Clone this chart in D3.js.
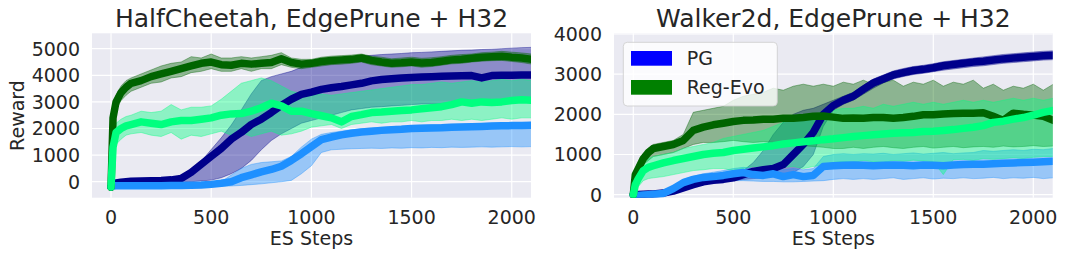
<!DOCTYPE html>
<html>
<head>
<meta charset="utf-8">
<script src="https://cdn.jsdelivr.net/npm/d3@7"></script>
<style>
  html, body { margin: 0; padding: 0; background: #ffffff; }
  svg { display: block; }
  text { font-family: "DejaVu Sans", sans-serif; fill: #262626; }
</style>
</head>
<body>
<svg id="chart" width="1065" height="257"></svg>
<script>
// ---------------- DATA ----------------
const steps = [0,10,25,50,75,100,
  150,200,250,300,350,400,450,500,550,600,
  650,700,750,800,850,900,950,1000,1050,1100,
  1150,1200,1250,1300,1350,1400,1450,1500,1550,1600,
  1650,1700,1750,1800,1850,1900,1950,2000,2050,2100];

const xTicks = [0, 500, 1000, 1500, 2000];
const hcYTicks = [0, 1000, 2000, 3000, 4000, 5000];
const wkYTicks = [0, 1000, 2000, 3000, 4000];

const titles = ["HalfCheetah, EdgePrune + H32", "Walker2d, EdgePrune + H32"];
const legendLabels = ["PG", "Reg-Evo"];

// HalfCheetah
const hcNavyMean = [-200,-100,-50,-20,0,20,
  30,40,50,70,120,350,650,950,1250,1600,
  1850,2150,2350,2600,2870,3100,3280,3370,3470,3530,
  3580,3640,3700,3790,3840,3870,3900,3920,3940,3950,
  3960,3970,3980,3990,3900,3990,4000,4000,4010,4010];
const hcNavyLo = [-250,-200,-150,-100,-80,-60,
  -50,-50,-40,-30,-20,0,30,60,150,300,
  500,800,1200,1550,1800,2000,2200,2300,2400,2500,
  2600,2700,2750,2800,2820,2850,2870,2900,2920,2930,
  2940,2950,2960,2970,2980,2990,3000,3000,3010,3020];
const hcNavyHi = [-150,-50,30,60,80,90,
  100,110,120,130,200,330,770,1210,1650,2130,
  2700,3300,3800,3950,4050,4150,4300,4400,4500,4600,
  4650,4700,4720,4750,4780,4800,4820,4850,4860,4880,
  4900,4920,4940,4950,4970,4980,5000,5020,5040,5050];

const hcDodgerMean = [-200,-160,-150,-150,-150,-150,
  -150,-150,-150,-140,-140,-130,-120,-100,-60,0,
  150,260,370,460,580,800,1050,1320,1580,1680,
  1760,1820,1870,1900,1930,1950,1970,2000,2010,2020,
  2030,2050,2060,2070,2080,2090,2100,2110,2115,2120];
const hcDodgerLo = [-250,-220,-210,-200,-200,-200,
  -200,-200,-200,-190,-190,-190,-190,-180,-170,-160,
  -140,-110,-80,-40,0,50,300,600,1100,1200,
  1220,1240,1250,1260,1250,1270,1260,1280,1270,1290,
  1280,1300,1290,1300,1310,1300,1310,1320,1310,1320];
const hcDodgerHi = [-150,-120,-110,-100,-100,-100,
  -100,-100,-100,-100,-90,-80,-60,-20,0,250,
  500,650,720,750,780,950,1300,1600,1780,1850,
  1900,1950,1990,2020,2050,2070,2090,2110,2130,2140,
  2150,2160,2170,2180,2190,2200,2200,2210,2220,2230];

const hcDarkGreenMean = [-200,2400,3000,3350,3550,3700,
  3800,3950,4050,4150,4250,4350,4450,4500,4400,4380,
  4450,4420,4450,4480,4620,4480,4420,4450,4520,4560,
  4580,4600,4650,4560,4500,4450,4470,4500,4460,4480,
  4530,4580,4600,4640,4680,4700,4720,4680,4650,4600];
const hcDarkGreenLo = [-250,2000,2700,3050,3250,3400,
  3550,3700,3750,3900,3950,4100,4150,4250,4150,4150,
  4250,4150,4250,4250,4400,4300,4250,4300,4350,4400,
  4420,4450,4500,4400,4350,4300,4320,4350,4300,4330,
  4380,4430,4450,4500,4530,4550,4560,4520,4480,4420];
const hcDarkGreenHi = [-150,2700,3250,3600,3800,3900,
  4050,4200,4350,4450,4500,4700,4650,4800,4650,4650,
  4700,4650,4700,4750,4850,4650,4600,4600,4680,4720,
  4740,4760,4800,4720,4680,4620,4650,4680,4640,4660,
  4700,4750,4780,4800,4850,4870,4900,4870,4840,4800];

const hcSpringMean = [-200,1300,1850,2000,2100,2150,
  2250,2200,2150,2250,2300,2300,2350,2400,2500,2550,
  2560,2650,2780,2950,2850,2650,2650,2560,2480,2400,
  2250,2450,2520,2600,2620,2650,2680,2700,2740,2780,
  2820,2900,3000,2950,3000,2980,3000,3050,3080,3060];
const hcSpringLo = [-250,900,1400,1600,1750,1800,
  1850,1750,1700,1850,1600,1750,1700,1800,1900,1750,
  1850,1700,1800,1900,1750,1800,1900,2050,2100,2150,
  2000,2150,2200,2250,2200,2250,2250,2300,2250,2300,
  2300,2350,2300,2350,2300,2350,2400,2350,2400,2400];
const hcSpringHi = [-150,1600,2200,2350,2450,2500,
  2650,2600,2650,2900,2700,2800,2800,2850,3100,3400,
  3700,3800,3900,3800,3600,3400,3300,3250,3300,3250,
  3300,3350,3400,3450,3500,3550,3600,3650,3650,3700,
  3750,3700,3750,3800,3750,3800,3850,3800,3850,3800];

// Walker2d
const wkNavyMean = [0,0,5,10,15,20,
  40,90,170,250,320,360,380,420,500,580,
  620,650,750,1000,1250,1550,2000,2220,2350,2450,
  2620,2780,2880,2980,3040,3090,3120,3160,3210,3240,
  3270,3300,3320,3350,3380,3400,3420,3440,3460,3470];
const wkNavyLo = [-30,-30,-30,-25,-20,-20,
  0,50,120,200,270,310,330,350,380,400,
  420,450,500,550,700,1000,1700,2100,2250,2350,
  2500,2650,2780,2880,2940,2990,3020,3060,3100,3130,
  3160,3190,3210,3240,3270,3290,3310,3330,3350,3360];
const wkNavyHi = [30,30,40,45,50,60,
  80,130,220,300,370,410,430,480,600,800,
  1100,1500,1800,2000,2100,2150,2250,2350,2450,2550,
  2720,2880,2980,3080,3140,3190,3220,3260,3310,3340,
  3370,3400,3430,3460,3490,3510,3530,3550,3570,3580];

const wkDodgerMean = [0,-20,-20,-10,0,10,
  30,150,300,380,430,450,480,520,550,500,
  480,520,450,500,450,480,700,720,730,740,
  730,720,730,740,730,720,740,730,720,740,
  750,760,760,770,780,790,800,810,820,830];
const wkDodgerLo = [-40,-40,-40,-30,-30,-20,
  0,80,200,280,320,330,340,350,350,340,
  330,330,320,320,330,340,350,380,400,380,
  400,380,400,420,380,400,420,390,410,400,
  420,400,410,430,400,420,410,430,400,420];
const wkDodgerHi = [30,20,20,30,40,50,
  80,220,380,460,520,560,600,650,680,650,
  640,660,620,650,620,650,950,1000,1020,1000,
  1020,1010,1030,1000,1020,1040,1010,1030,1050,1020,
  1040,1050,1100,1080,1100,1120,1100,1130,1120,1150];

const wkDarkGreenMean = [0,500,650,900,1050,1150,
  1200,1250,1350,1600,1680,1740,1780,1820,1850,1860,
  1880,1880,1900,1900,1920,1950,1960,1930,1900,1910,
  1900,1920,1920,1900,1920,1950,1990,1990,2010,2020,
  2030,2030,2040,1950,1850,2030,2000,1980,1950,1850];
const wkDarkGreenLo = [-30,350,500,750,850,950,
  1000,1050,1150,1250,1300,1300,1320,1350,1320,1300,
  1320,1300,1280,1250,1220,1200,1180,1150,1150,1180,
  1150,1180,1200,1170,1150,1180,1200,1160,1180,1200,
  1170,1190,1200,1180,1210,1190,1200,1220,1200,1210];
const wkDarkGreenHi = [30,600,800,1000,1150,1250,
  1300,1350,1500,2050,2100,2150,2200,2350,2450,2500,
  2550,2650,2600,2700,2750,2700,2750,2700,2800,2750,
  2850,2750,2800,2850,2700,2800,2750,2850,2700,2800,
  2750,2850,2650,2750,2600,2700,2650,2750,2600,2750];

const wkSpringMean = [0,250,400,600,680,720,
  790,850,900,950,1000,1030,1050,1100,1130,1160,
  1190,1220,1260,1290,1320,1340,1370,1390,1420,1450,
  1470,1490,1510,1530,1540,1550,1570,1580,1600,1620,
  1650,1680,1720,1800,1830,1880,1920,1980,2050,2100];
const wkSpringLo = [-50,100,200,350,400,420,
  450,500,550,600,620,650,650,600,650,700,
  650,700,680,700,650,700,750,800,820,800,
  850,820,800,850,830,860,840,820,500,870,
  880,850,900,880,900,920,900,930,950,950];
const wkSpringHi = [50,400,600,800,900,950,
  1000,1050,1150,1200,1250,1300,1400,1450,1500,1550,
  1600,1700,1800,1900,1950,2000,2050,2100,2150,2150,
  2200,2150,2250,2200,2250,2300,2250,2300,2250,2300,
  2350,2300,2350,2300,2350,2400,2350,2400,2350,2400];

const colors = { navy: "#00008b", dodger: "#1e90ff", darkgreen: "#006400", spring: "#00ff7f" };
const legendColors = ["#0000ff", "#008000"];

// ---------------- LAYOUT ----------------
const svg = d3.select("#chart");
const panels = [
  {
    title: titles[0], yTicks: hcYTicks,
    x: d3.scaleLinear().domain([-95, 2096]).range([92, 531]),
    y: d3.scaleLinear().domain([-601, 5579]).range([197.7, 33.3]),
    ylabel: "Reward",
    series: [
      { c: colors.navy, m: hcNavyMean, lo: hcNavyLo, hi: hcNavyHi },
      { c: colors.dodger, m: hcDodgerMean, lo: hcDodgerLo, hi: hcDodgerHi },
      { c: colors.darkgreen, m: hcDarkGreenMean, lo: hcDarkGreenLo, hi: hcDarkGreenHi },
      { c: colors.spring, m: hcSpringMean, lo: hcSpringLo, hi: hcSpringHi }
    ],
    legend: false
  },
  {
    title: titles[1], yTicks: wkYTicks,
    x: d3.scaleLinear().domain([-96.5, 2097]).range([614, 1052.7]),
    y: d3.scaleLinear().domain([-75, 4017]).range([197.7, 33.3]),
    ylabel: null,
    series: [
      { c: colors.navy, m: wkNavyMean, lo: wkNavyLo, hi: wkNavyHi },
      { c: colors.dodger, m: wkDodgerMean, lo: wkDodgerLo, hi: wkDodgerHi },
      { c: colors.darkgreen, m: wkDarkGreenMean, lo: wkDarkGreenLo, hi: wkDarkGreenHi },
      { c: colors.spring, m: wkSpringMean, lo: wkSpringLo, hi: wkSpringHi }
    ],
    legend: true
  }
];

panels.forEach((p, pi) => {
  const [x0, x1] = p.x.range();
  const [yb, yt] = p.y.range();
  const g = svg.append("g");
  const clipId = "clip" + pi;
  svg.append("clipPath").attr("id", clipId)
    .append("rect").attr("x", x0).attr("y", yt).attr("width", x1 - x0).attr("height", yb - yt);

  g.append("rect").attr("x", x0).attr("y", yt).attr("width", x1 - x0).attr("height", yb - yt)
    .attr("fill", "#eaeaf2");

  // grid
  g.selectAll(".gx").data(xTicks).enter().append("line")
    .attr("x1", d => p.x(d)).attr("x2", d => p.x(d)).attr("y1", yt).attr("y2", yb)
    .attr("stroke", "#ffffff").attr("stroke-width", 1.2);
  g.selectAll(".gy").data(p.yTicks).enter().append("line")
    .attr("y1", d => p.y(d)).attr("y2", d => p.y(d)).attr("x1", x0).attr("x2", x1)
    .attr("stroke", "#ffffff").attr("stroke-width", 1.2);

  const plot = g.append("g").attr("clip-path", `url(#${clipId})`);
  const area = d3.area().x((d, i) => p.x(steps[i])).y0(d => p.y(d[0])).y1(d => p.y(d[1]));
  const line = d3.line().x((d, i) => p.x(steps[i])).y(d => p.y(d));

  p.series.forEach(s => {
    const pts = s.lo.map((v, i) => [v, s.hi[i]]);
    plot.append("path").attr("d", area(pts))
      .attr("fill", s.c).attr("fill-opacity", 0.4)
      .attr("stroke", s.c).attr("stroke-opacity", 0.4).attr("stroke-width", 1);
  });
  p.series.forEach(s => {
    plot.append("path").attr("d", line(s.m))
      .attr("fill", "none").attr("stroke", s.c).attr("stroke-width", 7.5)
      .attr("stroke-linejoin", "round").attr("stroke-linecap", "round");
  });

  // tick labels
  g.selectAll(".tx").data(xTicks).enter().append("text")
    .attr("x", d => p.x(d)).attr("y", 223.5).attr("text-anchor", "middle")
    .style("font-size", "19px").text(d => d);
  g.selectAll(".ty").data(p.yTicks).enter().append("text")
    .attr("x", x0 - 12).attr("y", d => p.y(d) + 6.9).attr("text-anchor", "end")
    .style("font-size", "19px").text(d => d);

  // axis labels
  g.append("text").attr("x", (x0 + x1) / 2).attr("y", 245.3).attr("text-anchor", "middle")
    .style("font-size", "19px").text("ES Steps");
  if (p.ylabel) {
    g.append("text").attr("transform", `translate(24,${(yt + yb) / 2}) rotate(-90)`)
      .attr("text-anchor", "middle").style("font-size", "19px").text(p.ylabel);
  }
  // title
  g.append("text").attr("x", (x0 + x1) / 2).attr("y", 26.5).attr("text-anchor", "middle")
    .style("font-size", "25px").text(p.title);

  if (p.legend) {
    const lg = g.append("g");
    lg.append("rect").attr("x", 623.3).attr("y", 42.3).attr("width", 154).attr("height", 63.7)
      .attr("rx", 4).attr("fill", "#ffffff").attr("fill-opacity", 0.8)
      .attr("stroke", "#cccccc").attr("stroke-opacity", 0.8).attr("stroke-width", 1);
    legendLabels.forEach((lab, i) => {
      lg.append("rect").attr("x", 631).attr("y", 51 + i * 29).attr("width", 41).attr("height", 14.7)
        .attr("fill", legendColors[i]);
      lg.append("text").attr("x", 686.7).attr("y", 65.3 + i * 29)
        .style("font-size", "19px").text(lab);
    });
  }
});
</script>
</body>
</html>
